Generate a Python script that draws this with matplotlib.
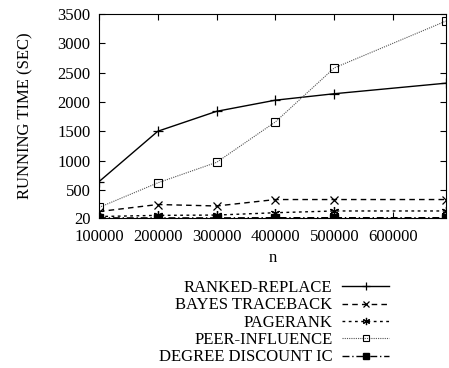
import matplotlib
matplotlib.use('Agg')
import matplotlib.pyplot as plt

plt.rcParams['font.family'] = ['Liberation Serif', 'DejaVu Serif']

n = [100000, 200000, 300000, 400000, 500000, 690000]
ranked_replace = [640, 1500, 1840, 2030, 2140, 2320]
bayes_traceback = [130, 250, 225, 335, 335, 335]
pagerank = [45, 65, 70, 110, 140, 140]
peer_influence = [200, 620, 970, 1660, 2580, 3380]
degree_discount = [22, 22, 22, 25, 25, 25]

yticks = [20, 500, 1000, 1500, 2000, 2500, 3000, 3500]
xticks = [100000, 200000, 300000, 400000, 500000, 600000]

fig = plt.figure(figsize=(4.49, 3.68), dpi=100)
ax = fig.add_axes([99/449, 1-218/368, 347/449, 204/368])

ax.plot(n, ranked_replace, color='black', lw=1, marker='+', ms=7, mew=0.9,
        label='RANKED-REPLACE')
ax.plot(n, bayes_traceback, color='black', lw=1, ls=(0, (4, 3)), marker='x', ms=5.5,
        mew=0.9, label='BAYES TRACEBACK')
ax.plot(n, pagerank, color='black', lw=1, ls=(0, (2, 2.5)), marker=(6, 2, 0), ms=6.5,
        mew=0.9, label='PAGERANK')
ax.plot(n, peer_influence, color='#555555', lw=0.8, ls=(0, (1, 1)), marker='s', ms=5.5,
        mfc='none', mec='black', mew=0.8, label='PEER-INFLUENCE')
ax.plot(n, degree_discount, color='black', lw=1, ls=(0, (5, 2, 1, 2)), marker='s', ms=5.5,
        label='DEGREE DISCOUNT IC')

ax.set_xlim(100000, 690000)
ax.set_ylim(20, 3500)
ax.set_xticks(xticks)
ax.set_yticks(yticks)
ax.tick_params(direction='in', labelsize=12, top=True, right=True, length=4)
ax.tick_params(axis='x', pad=8)
ax.tick_params(axis='y', pad=6)
ax.set_xlabel('n', fontsize=12, va='center')
ax.xaxis.set_label_coords(0.5, -(258-218)/204)
ax.set_ylabel('RUNNING TIME (SEC)', fontsize=12, va='center')
ax.yaxis.set_label_coords((25-99)/347, 0.5)

leg = fig.legend(loc='upper right', bbox_to_anchor=(389/449, 1-280/368), frameon=False,
                 markerfirst=False, fontsize=12, handlelength=2.8, labelspacing=0.08,
                 handletextpad=0.6, borderaxespad=0, borderpad=0, markerscale=0.8)
for t in leg.get_texts():
    t.set_ha('right')

fig.savefig('out.png', dpi=100)
